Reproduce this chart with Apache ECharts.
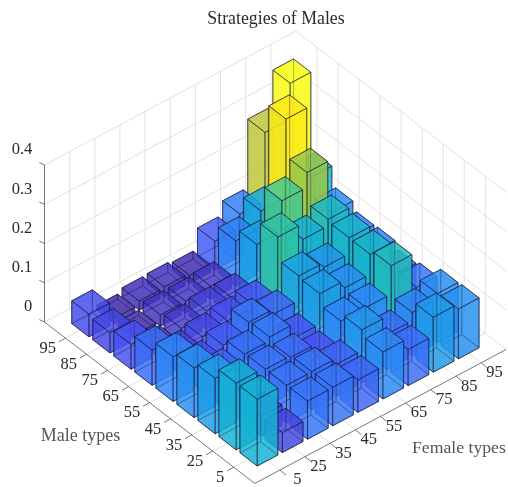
<!DOCTYPE html>
<html><head><meta charset="utf-8">
<style>html,body{margin:0;padding:0;background:#fff}#c{width:508px;height:487px}</style>
<script src="https://cdn.jsdelivr.net/npm/echarts@6/dist/echarts.min.js"></script>
</head><body><div id="c"></div>
<script>
const maleTypes=[5,25,35,45,55,65,75,85,95];
const femaleTypes=[5,25,35,45,55,65,75,85,95];
const zTicks=[0,0.1,0.2,0.3,0.4];
// one array per male type; entries run over femaleTypes
const male5 =[.170,.051,.097,.098,.083,.120,.092,.140,.127];
const male25=[.170,.052,.096,.097,.082,.135,.090,.111,.125];
const male35=[.141,.080,.096,.092,.064,.116,.117,.189,.100];
const male45=[.126,.080,.093,.103,.067,.145,.126,.177,.092];
const male55=[.114,.060,.075,.099,.086,.149,.137,.178,.109];
const male65=[.090,.045,.055,.062,.070,.207,.167,.184,.107];
const male75=[.063,.015,.036,.046,.046,.147,.224,.262,.127];
const male85=[.052,.013,.029,.030,.034,.115,.157,.357,.175];
const male95=[.058,.013,.023,.025,.020,.073,.108,.282,.373];
const rows=[male5,male25,male35,male45,male55,male65,male75,male85,male95];

// oblique projection of the 3-D axes box onto the page
const B=[254.8,483.4],L=[44.5,322],R=[506.3,349.4],zScale=392.5,halfW=0.41,span=10;
function proj(u,v,z){return [B[0]+u/span*(L[0]-B[0])+v/span*(R[0]-B[0]),
                             B[1]+u/span*(L[1]-B[1])+v/span*(R[1]-B[1])-z*zScale];}
const parulaKeys=[[.2422,.1504,.6603],[.2810,.3228,.9579],[.1786,.5289,.9682],[.0689,.6948,.8394],
 [.2161,.7843,.5923],[.6720,.7793,.2227],[.9970,.7659,.2199],[.9763,.9831,.0538]];
const zMax=Math.max(...rows.flat()),zMin=Math.min(...rows.flat());
function colorOf(z){const t=Math.min(1,(z-zMin)/(zMax-zMin))*(parulaKeys.length-1),i=Math.min(parulaKeys.length-2,Math.floor(t)),f=t-i;
 const c=parulaKeys[i].map((k,n)=>Math.round(255*(k+(parulaKeys[i+1][n]-k)*f)));return `rgb(${c[0]},${c[1]},${c[2]})`;}

const barData=[];
for(let i=rows.length-1;i>=0;i--)for(let j=femaleTypes.length-1;j>=0;j--)barData.push([i+1,j+1,rows[i][j]]);

function renderBar(params,api){
 const u=api.value(0),v=api.value(1),z=api.value(2),w=halfW;
 const P=(a,b,c)=>api.coord(proj(u+a*w,v+b*w,c));
 const fill=colorOf(z);
 const faces=[
  [P(1,1,0),P(-1,1,0),P(-1,-1,0),P(1,-1,0)],
  [P(1,1,0),P(1,-1,0),P(1,-1,z),P(1,1,z)],
  [P(1,1,0),P(-1,1,0),P(-1,1,z),P(1,1,z)],
  [P(-1,-1,0),P(1,-1,0),P(1,-1,z),P(-1,-1,z)],
  [P(-1,-1,0),P(-1,1,0),P(-1,1,z),P(-1,-1,z)],
  [P(1,1,z),P(-1,1,z),P(-1,-1,z),P(1,-1,z)]];
 return {type:'group',children:faces.map(p=>({type:'polygon',shape:{points:p},
   style:{fill:fill,opacity:1,fillOpacity:0.6,stroke:'rgba(20,20,50,0.8)',lineWidth:0.7,lineJoin:'round'}}))};
}

function renderFrame(params,api){
 const c=[];
 const C=(p)=>api.coord(p);
 const seg=(a,b,col,lw)=>c.push({type:'line',shape:{x1:C(a)[0],y1:C(a)[1],x2:C(b)[0],y2:C(b)[1]},style:{stroke:col,lineWidth:lw}});
 const txt=(p,s,align,fs,col)=>c.push({type:'text',x:C(p)[0],y:C(p)[1],style:{text:s,textAlign:align,textVerticalAlign:'middle',
    font:fs+'px "Liberation Serif"',fill:col}});
 const g='#e2e2e2';
 const top=zTicks[zTicks.length-1];
 for(let k=1;k<=maleTypes.length;k++){
  seg(proj(k,0,0),proj(k,span,0),g,1);
  seg(proj(k,span,0),proj(k,span,top),g,1);
 }
 for(let k=1;k<=femaleTypes.length;k++){
  seg(proj(0,k,0),proj(span,k,0),g,1);
  seg(proj(span,k,0),proj(span,k,top),g,1);
 }
 zTicks.forEach(z=>{
  seg(proj(span,0,z),proj(span,span,z),g,1);
  seg(proj(span,span,z),proj(0,span,z),g,1);
  const e=proj(span,0,z);
  seg(e,[e[0]-5.2,e[1]-2.4],'#555',0.8);
  txt([32.3,e[1]-15],String(z),'right',16.5,'#2a2a2a');
 });
 const ax='#555';
 seg(proj(span,0,0),proj(span,0,top),ax,0.8);
 seg(proj(span,0,0),proj(0,0,0),ax,0.8);
 seg(proj(0,0,0),proj(0,span,0),ax,0.8);
 maleTypes.forEach((m,i)=>{const p=proj(i+1,0,0);
  seg(p,[p[0]-6.7,p[1]+3.6],ax,0.8);
  txt([p[0]-9.5,p[1]+10.4],String(m),'right',16.5,'#2a2a2a');});
 femaleTypes.forEach((f,i)=>{const p=proj(0,i+1,0);
  seg(p,[p[0]+6,p[1]+5],ax,0.8);
  txt([p[0]+21.6,p[1]+10],String(f),'right',16.5,'#2a2a2a');});
 txt([40.7,436.3],'Male types','left',18,'#555');
 txt([412,448],'Female types','left',17.7,'#555');
 return {type:'group',children:c};
}

const chart=echarts.init(document.getElementById('c'));
chart.setOption({
 animation:false,backgroundColor:'#fff',
 title:{text:'Strategies of Males',left:271,top:5,textAlign:'center',
   textStyle:{fontFamily:'Liberation Serif',fontWeight:'normal',fontSize:17.8,color:'#2a2a2a'}},
 grid:{left:0,top:0,right:0,bottom:0},
 xAxis:{type:'value',min:0,max:508,show:false},
 yAxis:{type:'value',min:0,max:487,inverse:true,show:false},
 series:[
  {type:'custom',silent:true,clip:false,coordinateSystem:'cartesian2d',data:[[0,0,0]],renderItem:renderFrame,z:1},
  {type:'custom',silent:true,clip:false,coordinateSystem:'cartesian2d',data:barData,renderItem:renderBar,z:2,
   encode:{x:0,y:1}}
 ]
});
</script></body></html>
